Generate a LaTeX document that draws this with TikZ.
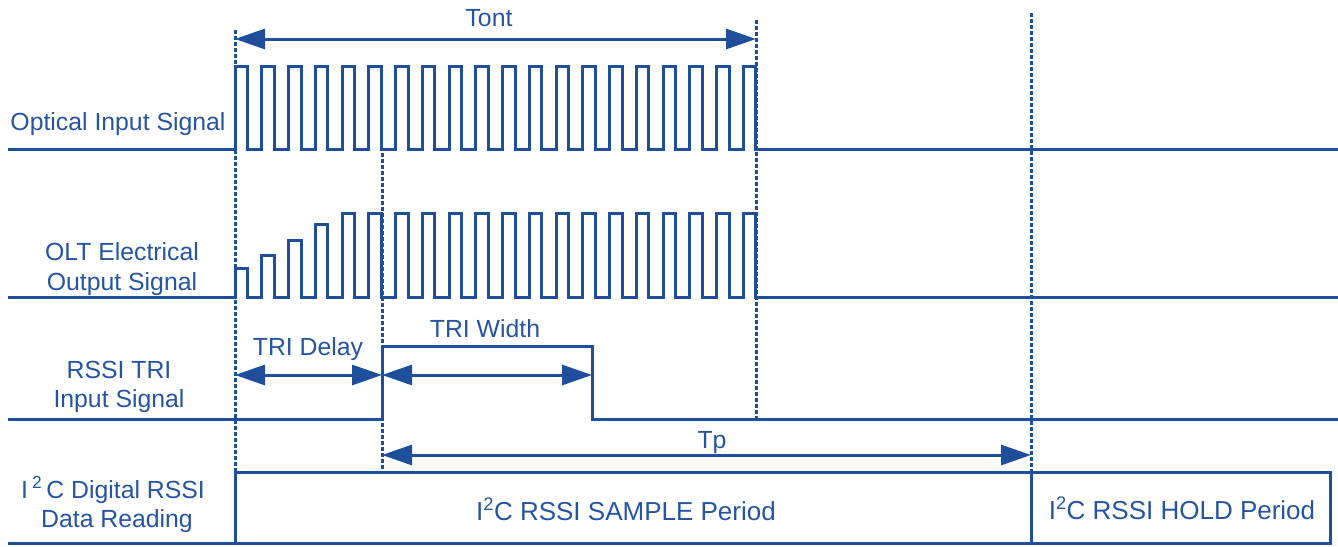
\documentclass[tikz,border=0pt]{standalone}
\usepackage{fontspec}
\setmainfont{Liberation Sans}
\usetikzlibrary{arrows.meta}
\definecolor{sig}{RGB}{31,78,155}
\definecolor{txt}{RGB}{38,84,160}
\begin{document}
\begin{tikzpicture}[x=1pt,y=-1pt,
  signal/.style={draw=sig,line width=3pt,line join=miter},
  guide/.style={draw=sig,line width=3pt,dash pattern=on 3.5pt off 2.5pt},
  dimline/.style={draw=sig,line width=3pt,{Triangle[length=30pt,width=20pt]}-{Triangle[length=30pt,width=20pt]}},
  lbl/.style={text=txt,font=\fontsize{24.8}{30}\selectfont,inner sep=0pt,anchor=base},
  boxlbl/.style={text=txt,font=\fontsize{26}{30}\selectfont,inner sep=0pt,anchor=base}]
\useasboundingbox (0,0) rectangle (1338,546);

% guide lines
\draw[guide] (235,30) coordinate (g0a) -- (235,472) coordinate (g0b);
\draw[guide] (382,153) coordinate (g1a) -- (382,472) coordinate (g1b);
\draw[guide] (756,20) coordinate (g3a) -- (756,418) coordinate (g3b);
\draw[guide] (1031,13) coordinate (g4a) -- (1031,472) coordinate (g4b);

% optical input signal
\draw[signal] (8,149) -- (235,149)
  foreach \k in {0,...,19} { -- ({235+\k*26.76},149) -- ({235+\k*26.76},66)
     -- ({247.5+\k*26.76},66) -- ({247.5+\k*26.76},149) } -- (1338,149);

% OLT electrical output signal
\draw[signal] (8,297) -- (235,297)
  foreach \k/\a in {0/29,1/42,2/57,3/73,4/84,5/84,6/84,7/84,8/84,9/84,10/84,11/84,12/84,13/84,14/84,15/84,16/84,17/84,18/84,19/84}
   { -- ({235+\k*26.76},297) -- ({235+\k*26.76},{297-\a})
     -- ({247.5+\k*26.76},{297-\a}) -- ({247.5+\k*26.76},297) } -- (1338,297);

% RSSI TRI input signal
\draw[signal] (8,419) -- (382,419) -- (382,346) -- (592,346) -- (592,419) -- (1338,419);

% I2C data reading boxes
\draw[signal] (8,543) -- (1330,543) -- (1330,472) -- (235,472) -- (235,543);
\draw[signal] (1031,472) -- (1031,543);

% dimension arrows
\coordinate (tontL) at (235,39);
\coordinate (tontR) at (756,39);
\coordinate (delL) at (235,375);
\coordinate (delR) at (382,375);
\coordinate (widR) at (592,375);
\coordinate (tpL) at (382,455);
\coordinate (tpR) at (1031,455);
\draw[dimline] (tontL) -- (tontR);
\draw[dimline] (delL) -- (delR);
\draw[dimline] (delR) -- (widR);
\draw[dimline] (tpL) -- (tpR);

% labels
\node[lbl] (tont) at (489,27) {Tont};
\node[lbl] (tridelay) at (308,355) {TRI Delay};
\node[lbl] (triwidth) at (485,337) {TRI Width};
\node[lbl] (tp) at (712,448) {Tp};

\node[lbl] (opt) at (118,130) {Optical Input Signal};
\node[lbl] (olt1) at (122,260) {OLT Electrical};
\node[lbl] (olt2) at (122,290) {Output Signal};
\node[lbl] (tri1) at (119,378) {RSSI TRI};
\node[lbl] (tri2) at (119,407) {Input Signal};
\node[lbl] (i2c1) at (113,498) {I\,\textsuperscript{2}\,C Digital RSSI};
\node[lbl] (i2c2) at (117,527) {Data Reading};

\node[boxlbl] (sample) at (626,520) {I\textsuperscript{2}C RSSI SAMPLE Period};
\node[boxlbl] (hold) at (1182,519) {I\textsuperscript{2}C RSSI HOLD Period};
\end{tikzpicture}
\end{document}
